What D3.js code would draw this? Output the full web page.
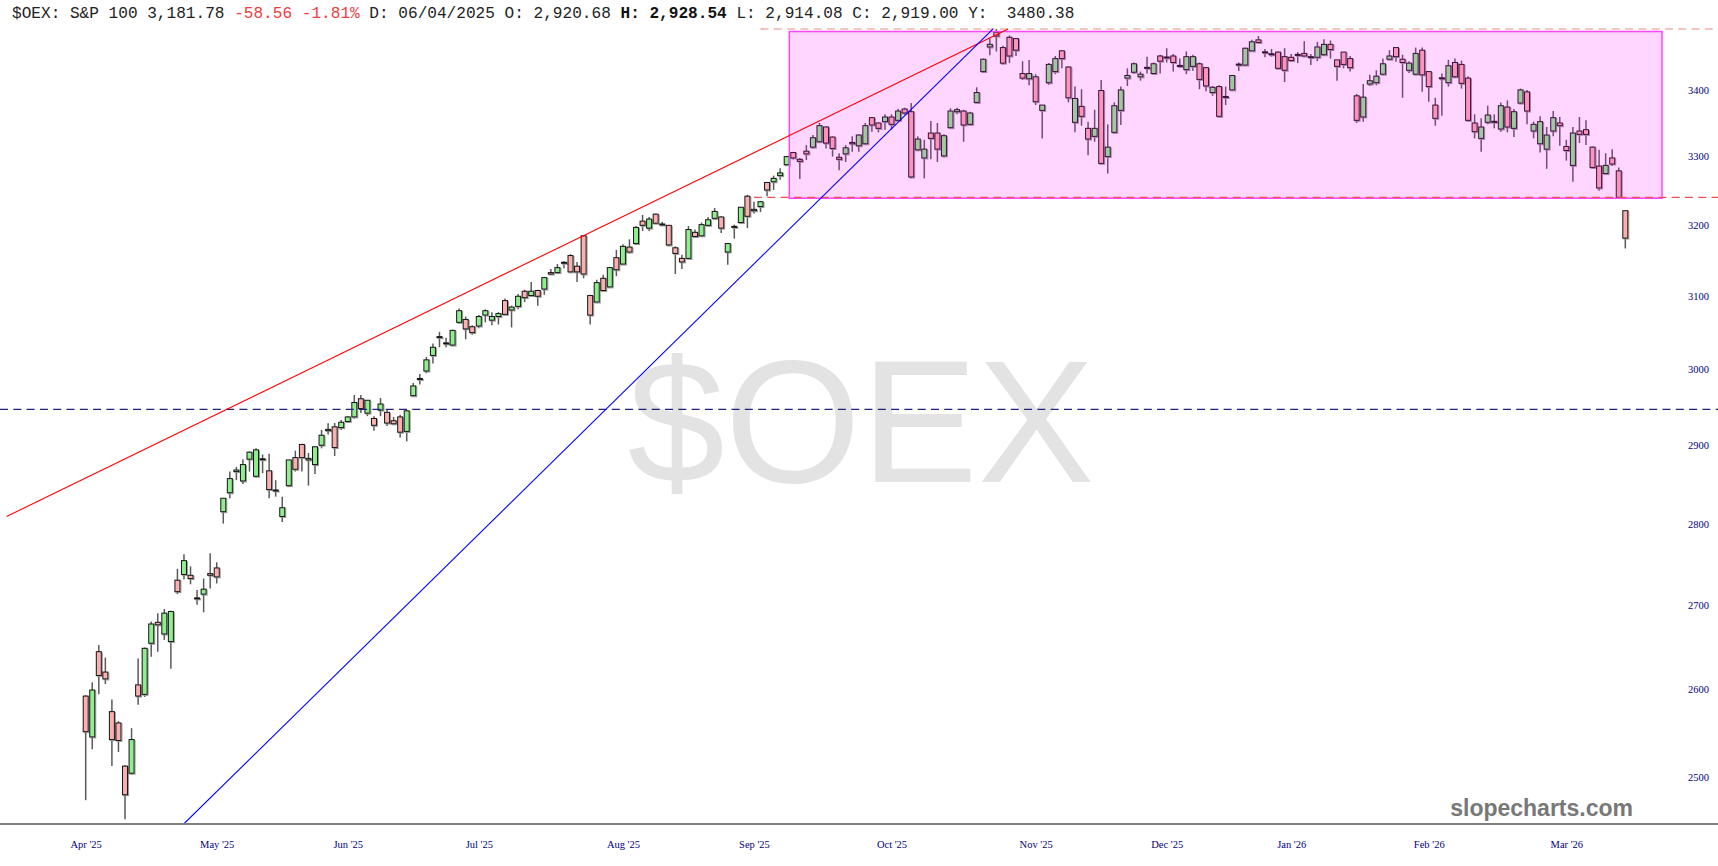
<!DOCTYPE html>
<html>
<head>
<meta charset="utf-8">
<script src="https://cdn.jsdelivr.net/npm/d3@7"></script>
<style>
  body { margin: 0; background: #fff; }
  svg { display: block; }
</style>
</head>
<body>
<svg id="chart"></svg>
<script>
// daily candles, one entry per trading day (Apr '25 .. Mar '26)
const openPrices = [2592,2545,2644,2620,2574,2561,2512,2504,2605,2594,2654,2679,2665,2656,2730,2737,2736,2708,2713,2738,
  2745,2815,2839,2866,2854,2882,2860,2882,2867,2842,2809,2848,2884,2901,2881,2875,2900,2920.68,2924,2923,
  2931,2937,2961,2942,2935,2946,2943,2932,2937,2918,2965,2987.5,2998,3019,3044,3035,3033,3064,3068,3058,
  3059,3074,3067,3072,3094,3081,3086,3107,3101,3108,3110,3133,3133,3147,3157,3142,3185,3101,3092,3125,
  3113,3154,3145,3169,3174,3206,3196,3216,3202,3200,3168,3153,3153,3190,3185,3200,3210,3212,3162,3198,
  3204,3242,3223,3227,3262,3263,3272,3288,3306,3296,3308,3314,3322,3344,3329,3299,3304,3321,3316,3319,
  3358,3350,3352,3359,3354,3371,3367,3310,3298,3335,3335,3301,3343,3367,3368,3348,3381,3428,3466,3489,
  3465,3481,3479,3425,3417,3420,3369,3411,3428,3460,3435,3351,3375,3342,3330,3399,3300,3336,3369,3418,
  3427,3420,3434,3425,3452,3450,3452,3437,3431,3436,3440,3434,3396,3405,3390,3400,3439,3438,3460,3477,
  3458,3455,3458,3451,3450,3454,3456,3451,3450,3454,3470,3446,3458,3448,3391,3359,3409,3411,3424,3447,
  3465,3447,3430,3424,3461,3428,3377,3418,3411,3442,3439,3418,3350,3327,3351,3352,3341,3374,3342,3380,
  3397,3338,3319,3311,3338,3350,3315,3287,3338,3340,3314,3286,3275,3298,3279,3221];
const highPrices = [2593,2608,2652,2637,2588,2563,2513,2555,2636,2649,2680,2690,2695,2693,2744,2762,2747,2718,2732,2763,
  2752,2832,2866,2872,2882,2892,2896,2888,2889,2855,2834,2881,2893,2902,2890,2898,2920,2928.54,2929,2933,
  2938,2966,2966,2959,2938,2962,2946,2937,2940,2946,2982,2994,3017,3035,3051,3043,3054,3083,3072,3060,
  3074,3082,3078,3078,3097,3087,3103,3109,3120,3109,3127,3138,3145,3149,3159,3148,3186,3102,3123,3130,
  3141,3165,3173,3180,3199,3215,3212,3217,3205,3200,3170,3158,3199,3194,3204,3212,3225,3213,3175,3201,
  3226,3244,3234,3235,3262,3272,3283,3301,3307,3298,3317,3332,3350,3345,3330,3305,3317,3330,3333,3350,
  3359,3351,3363,3363,3371,3373,3380,3330,3325,3353,3350,3333,3372,3373,3370,3367,3404,3448,3479,3494,
  3468,3484,3480,3444,3446,3424,3377,3441,3452,3461,3436,3405,3401,3352,3370,3415,3348,3381,3405,3433,
  3442,3428,3451,3442,3454,3464,3455,3448,3459,3454,3442,3435,3406,3407,3405,3422,3442,3465,3477,3483,
  3463,3463,3459,3464,3455,3458,3475,3455,3474,3478,3476,3446,3458,3452,3394,3409,3423,3430,3448,3461,
  3466,3454,3444,3465,3465,3428,3388,3425,3446,3448,3445,3421,3363,3357,3376,3363,3381,3384,3371,3402,
  3400,3352,3360,3344,3368,3359,3325,3344,3359,3354,3315,3310,3305,3311,3284,3221];
const lowPrices = [2474,2531,2594,2606,2512,2528,2453,2503,2582,2591,2638,2644,2658,2624,2713,2731,2725,2700,2691,2720,
  2726,2800,2832,2855,2850,2866,2859,2864,2832,2834,2802,2847,2866,2866,2848,2863,2896,2914.08,2886,2920,
  2929,2935,2942,2938,2919,2938,2925,2927,2910,2905,2964,2980,2995,3008,3030,3030,3032,3063,3041,3047,
  3056,3064,3060,3061,3075,3057,3082,3092,3101,3087,3102,3130,3131,3139,3133,3120,3125,3061,3092,3106,
  3112,3128,3145,3160,3173,3192,3192,3203,3200,3171,3131,3138,3152,3184,3184,3198,3209,3189,3144,3181,
  3203,3196,3217,3219,3242,3251,3266,3287,3296,3267,3295,3312,3321,3312,3300,3280,3292,3307,3307,3318,
  3337,3336,3340,3340,3354,3362,3268,3309,3268,3296,3292,3299,3342,3363,3322,3346,3380,3426,3453,3459,
  3439,3441,3452,3415,3407,3377,3327,3408,3424,3433,3381,3336,3346,3302,3322,3289,3275,3335,3347,3406,
  3425,3414,3425,3423,3425,3442,3428,3434,3424,3429,3401,3398,3391,3360,3377,3399,3429,3437,3460,3472,
  3450,3451,3433,3412,3443,3441,3451,3438,3444,3452,3448,3414,3433,3428,3350,3352,3406,3407,3423,3446,
  3443,3388,3426,3423,3397,3382,3346,3361,3405,3418,3402,3353,3327,3307,3348,3342,3337,3336,3329,3379,
  3348,3327,3306,3282,3330,3316,3294,3263,3320,3317,3283,3250,3274,3286,3240,3167];
const closePrices = [2551,2599,2616,2612,2542,2541,2480,2542,2592,2648,2677,2676,2690,2692,2716,2754,2732,2708.5,2719,2736,
  2734,2832,2857,2868,2875,2891,2894,2882.5,2843,2842.5,2820,2881,2869,2884,2883,2898,2913,2919.00,2897,2930,
  2937,2956,2948,2959,2926,2954,2929,2928,2917,2945,2978,2988,3013,3030,3044.5,3036,3053,3080,3055,3050,
  3072,3080,3072,3076,3075,3085,3100,3098,3107,3100,3126,3131,3140,3147.5,3134,3134,3131,3074,3119,3108,
  3140,3137,3170,3162,3197,3200,3209,3203,3200.5,3172,3160,3148,3194,3184,3201,3208,3220,3196,3174,3198.5,
  3226,3213,3221,3234,3251,3268,3276,3300,3298,3293,3304,3328,3346,3320,3312,3296,3313,3319,3332,3346,
  3347,3342,3359,3348,3368,3365,3270,3326,3311,3327,3311,3331,3368,3370,3347,3365,3396,3447,3470,3483,
  3441,3452,3461,3418,3425,3382,3377,3439,3448,3448,3388,3387,3360,3326,3342,3290,3314,3376,3400,3422,
  3440,3424,3434.5,3440,3444,3450.5,3442,3437.5,3451,3451,3416,3406,3404,3360,3389.5,3422,3439.5,3464,3474,3473,
  3458.5,3455.5,3433,3430,3445,3454.5,3452,3450.5,3466,3470,3462,3436,3439,3434,3354,3389,3414,3421,3440,3452,
  3451,3442,3441,3456,3423,3405,3357,3418.5,3437,3420,3410,3354,3337,3344,3362,3352.5,3376,3344,3367,3400,
  3368,3348,3352,3332,3358,3346,3309,3335,3333,3333,3284,3254,3287,3289,3240.34,3181.78];

const monthLabels = ["Apr '25", "May '25", "Jun '25", "Jul '25", "Aug '25", "Sep '25",
  "Oct '25", "Nov '25", "Dec '25", "Jan '26", "Feb '26", "Mar '26"];
const monthIndex = [0, 20, 40, 60, 82, 102, 123, 145, 165, 184, 205, 226];
const priceTicks = [2500, 2600, 2700, 2800, 2900, 3000, 3100, 3200, 3300, 3400];

// drawings: [bar index, price]
const redTrend = [[-12.07, 2809], [140.8, 3494]];
const blueTrend = [[15.0, 2448], [138.5, 3494]];
const boxIndex = [107.4, 240.6];
const boxPrice = [3239, 3490];
const highLevel = 3494, highLevelFrom = 103;
const closeLevel = 3240.34, closeLevelFrom = 102;
const supportLevel = 2947;

let width = 1718, height = 866, plotBottom = 824;

var svg = d3.select('#chart')
    .attr('width', width)
    .attr('height', height)
    .style('font-family', "'Liberation Serif', serif");

let x = d3.scaleLinear().domain([0, openPrices.length - 1]).range([85.7, 1625.3]);
let y = d3.scaleLog().domain([2500, 3400]).range([776.8, 89.9]);

svg.append('defs').append('clipPath').attr('id', 'plotClip')
    .append('rect').attr('x', 0).attr('y', 0).attr('width', width).attr('height', plotBottom);

// watermark
svg.append('text')
    .attr('x', 861)
    .attr('y', 482)
    .attr('text-anchor', 'middle')
    .style('font-family', "'Liberation Sans', Arial, sans-serif")
    .style('font-size', '175px')
    .style('fill', '#e3e3e3')
    .text('$OEX');

svg.append('text')
    .attr('x', 1633)
    .attr('y', 816)
    .attr('text-anchor', 'end')
    .style('font-family', "'Liberation Sans', Arial, sans-serif")
    .style('font-weight', 'bold')
    .style('font-size', '23px')
    .style('fill', '#787878')
    .text('slopecharts.com');

let plot = svg.append('g').attr('clip-path', 'url(#plotClip)');

// candles
let candles = d3.range(openPrices.length).map(function (i) {
    return { i: i, o: openPrices[i], h: highPrices[i], l: lowPrices[i], c: closePrices[i] };
});
let bodyW = 5;

plot.selectAll('.wick')
    .data(candles)
    .enter().append('line')
    .attr('x1', d => x(d.i)).attr('x2', d => x(d.i))
    .attr('y1', d => y(d.h)).attr('y2', d => y(d.l))
    .style('stroke', '#5a5a5a')
    .style('stroke-width', 1.5);

plot.selectAll('.shadow')
    .data(candles)
    .enter().append('rect')
    .attr('x', d => x(d.i) - bodyW / 2 + 1)
    .attr('y', d => y(Math.max(d.o, d.c)) + 1)
    .attr('width', bodyW)
    .attr('height', d => Math.max(1, Math.abs(y(d.o) - y(d.c))))
    .style('fill', 'none')
    .style('stroke', '#9a9a9a')
    .style('stroke-width', 1);

plot.selectAll('.body')
    .data(candles)
    .enter().append('rect')
    .attr('x', d => x(d.i) - bodyW / 2)
    .attr('y', d => y(Math.max(d.o, d.c)))
    .attr('width', bodyW)
    .attr('height', d => Math.max(1, Math.abs(y(d.o) - y(d.c))))
    .style('fill', d => d.c >= d.o ? '#90ee90' : '#fbb0b0')
    .style('stroke', '#151515')
    .style('stroke-width', 1);

// range box (drawn over the candles)
plot.append('rect')
    .attr('x', x(boxIndex[0]))
    .attr('y', y(boxPrice[1]))
    .attr('width', x(boxIndex[1]) - x(boxIndex[0]))
    .attr('height', y(boxPrice[0]) - y(boxPrice[1]))
    .style('fill', 'rgba(255, 0, 255, 0.16)')
    .style('stroke', '#ff44ff')
    .style('stroke-width', 1.5);

// horizontal levels
plot.append('line')
    .attr('x1', 0).attr('x2', width)
    .attr('y1', y(supportLevel)).attr('y2', y(supportLevel))
    .style('stroke', '#22227a')
    .style('stroke-width', 1.2)
    .style('stroke-dasharray', '8,5.3');

plot.append('line')
    .attr('x1', x(highLevelFrom)).attr('x2', width)
    .attr('y1', y(highLevel)).attr('y2', y(highLevel))
    .style('stroke', '#f08a8a')
    .style('stroke-width', 1.2)
    .style('stroke-dasharray', '8,5.3');

plot.append('line')
    .attr('x1', x(closeLevelFrom)).attr('x2', width)
    .attr('y1', y(closeLevel)).attr('y2', y(closeLevel))
    .style('stroke', '#f05050')
    .style('stroke-width', 1.2)
    .style('stroke-dasharray', '8,5.3');

// trend lines
let trend = d3.line().x(d => x(d[0])).y(d => y(d[1]));

plot.append('path')
    .attr('d', trend(redTrend))
    .style('fill', 'none')
    .style('stroke', '#ff0000')
    .style('stroke-width', 1.1);

plot.append('path')
    .attr('d', trend(blueTrend))
    .style('fill', 'none')
    .style('stroke', '#0000ff')
    .style('stroke-width', 1.1);

// bottom axis line
svg.append('line')
    .attr('x1', 0).attr('x2', width)
    .attr('y1', plotBottom).attr('y2', plotBottom)
    .style('stroke', '#808080')
    .style('stroke-width', 2);

// price axis
let yAxis = svg.append('g')
    .attr('transform', 'translate(1686, 0)')
    .call(d3.axisRight(y).tickValues(priceTicks).tickSize(0).tickPadding(2).tickFormat(d3.format('d')));
yAxis.select('.domain').remove();
yAxis.selectAll('text')
    .style('font-family', "'Liberation Serif', serif")
    .style('font-size', '10.5px')
    .style('fill', '#000080');

// month axis
let xAxis = svg.append('g')
    .attr('transform', 'translate(0, 840.5)')
    .call(d3.axisBottom(x).tickValues(monthIndex).tickSize(0).tickPadding(0)
        .tickFormat(function (d, k) { return monthLabels[k]; }));
xAxis.select('.domain').remove();
xAxis.selectAll('text')
    .style('font-family', "'Liberation Serif', serif")
    .style('font-size', '10.5px')
    .style('fill', '#000080');

// header line
let header = svg.append('text')
    .attr('x', 12)
    .attr('y', 18)
    .attr('xml:space', 'preserve')
    .style('white-space', 'pre')
    .style('font-family', "'Liberation Mono', 'Courier New', monospace")
    .style('font-size', '16.1px')
    .style('fill', '#222');

let headerParts = [
    ['$OEX: S&P 100 3,181.78 ', '#222', 'normal'],
    ['-58.56 -1.81%', '#f03c3c', 'normal'],
    [' D: 06/04/2025 O: 2,920.68 ', '#222', 'normal'],
    ['H: 2,928.54', '#111', 'bold'],
    [' L: 2,914.08 C: 2,919.00 Y:  3480.38', '#222', 'normal']
];
headerParts.forEach(function (p) {
    header.append('tspan').style('fill', p[1]).style('font-weight', p[2]).text(p[0]);
});
</script>
</body>
</html>
